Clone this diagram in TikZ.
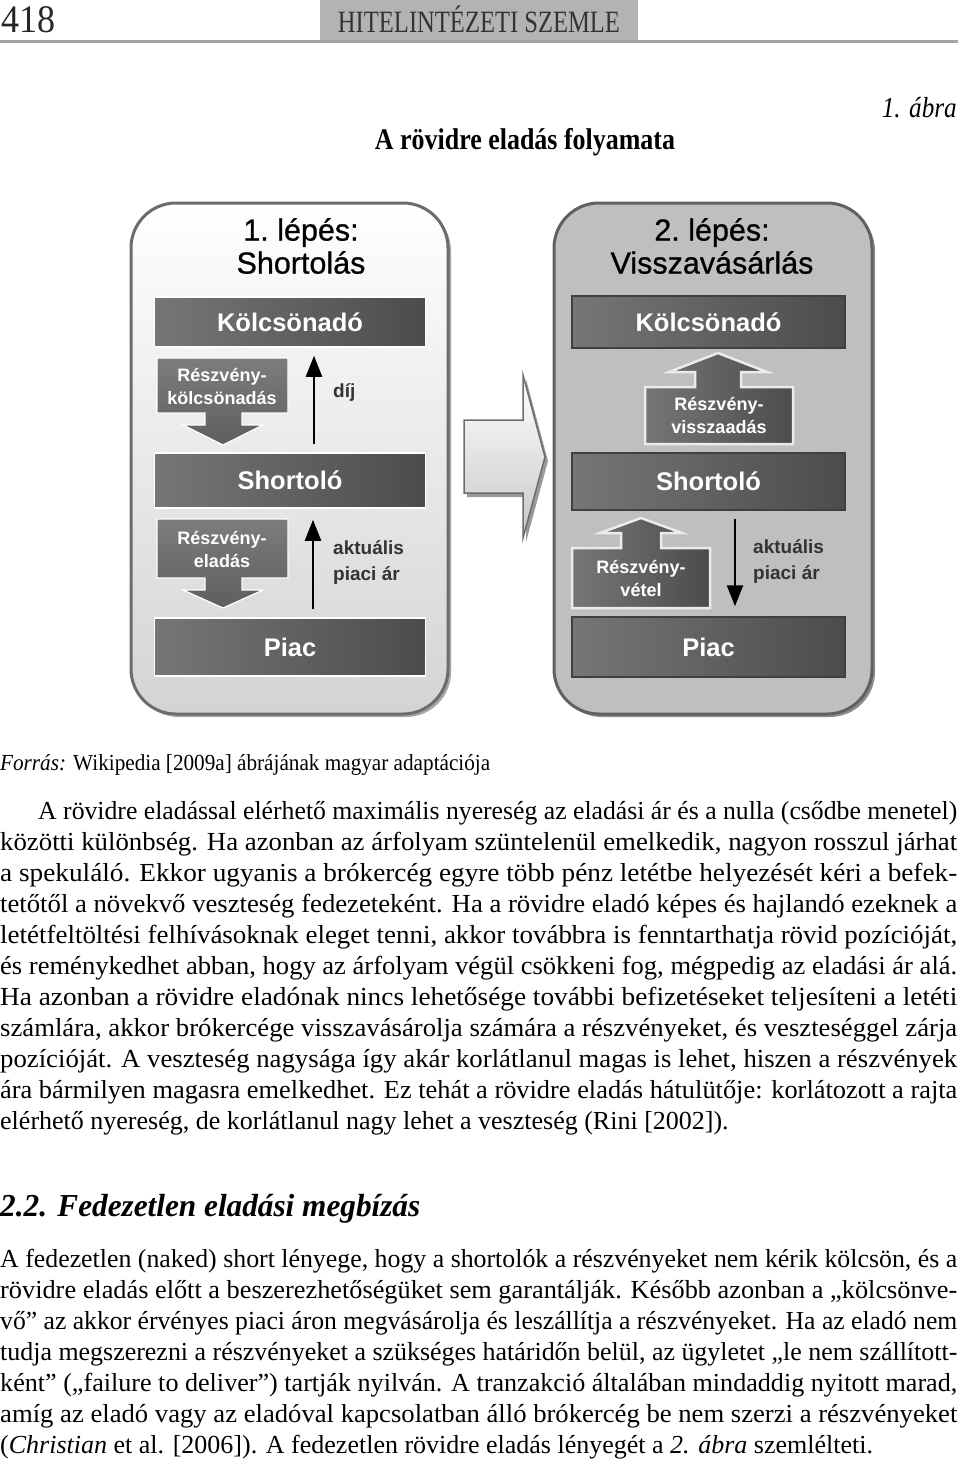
\documentclass[tikz,border=0pt]{standalone}
\usepackage{fontspec}
\usepackage{graphicx}
\setmainfont{Liberation Serif}
\newfontfamily\bodyf{Liberation Serif}
\newfontfamily\condf[FakeStretch=0.8]{Liberation Serif}
\newfontfamily\sansf{Liberation Sans}
\newfontfamily\sanstitle[FakeBold=0.8]{Liberation Sans}
\usetikzlibrary{arrows.meta,calc}
\definecolor{boxL}{HTML}{767676}
\definecolor{boxR}{HTML}{4C4C4C}
\definecolor{tabgray}{HTML}{B3B3B3}
\definecolor{rulegray}{HTML}{A3A3A3}
\definecolor{panelborder}{HTML}{6C6C6C}
\definecolor{panelR}{HTML}{BFBFBF}
\definecolor{labeltext}{HTML}{333333}
\newcommand\fitto[2]{\resizebox{#1}{\height}{#2}}
\begin{document}
\begin{tikzpicture}[x=1pt,y=-1pt,
  darkbox/.style={left color=boxL, right color=boxR, text=white,
    font=\sansf\bfseries\fontsize{25.5}{28}\selectfont, inner sep=0pt, minimum width=271pt},
  leftbox/.style={darkbox, draw=white, line width=1.5pt},
  rightbox/.style={darkbox, draw=black!75, line width=1.5pt},
  blockL/.style={top color=boxL!95, bottom color=boxR!90, draw=white, line width=1.2pt},
  blockR/.style={left color=boxL, right color=boxR, draw=black!8, line width=2.5pt},
  blocktext/.style={text=white, font=\sansf\bfseries\fontsize{18}{23}\selectfont, align=center, inner sep=0pt},
  thinarr/.style={line width=2.2pt, -{Triangle[length=21pt,width=16pt]}},
  sidelabel/.style={text=labeltext, font=\sansf\bfseries\fontsize{19}{26}\selectfont, align=left, anchor=west, inner sep=0pt},
  ptitle/.style={font=\sanstitle\fontsize{30.5}{33}\selectfont, align=center, inner sep=0pt},
  body/.style={anchor=base west, inner sep=0pt, font=\bodyf\fontsize{26}{31}\selectfont},
  bigarrow/.style={top color=white, bottom color=black!22, draw=panelborder, line width=1.5pt}
]
\useasboundingbox (0,0) rectangle (960,1462);
\fill[white] (0,0) rectangle (960,1462);

% ---------- header ----------
\fill[tabgray] (320,0) rectangle (638,40);
\draw[rulegray, line width=3pt] (0,41.5) -- (958,41.5);
\node[anchor=base west, inner sep=0pt, text=black!85, font=\condf\fontsize{39}{39}\selectfont] (pagenum) at (1,32) {\fitto{54pt}{418}};
\node[anchor=base, inner sep=0pt, text=black!80, font=\condf\fontsize{31}{31}\selectfont] (journal) at (479,32) {\fitto{282pt}{HITELINTÉZETI SZEMLE}};
\node[anchor=base east, inner sep=0pt, font=\condf\itshape\fontsize{29}{29}\selectfont] (abra) at (957,117) {\fitto{75pt}{1. ábra}};
\node[anchor=base, inner sep=0pt, font=\condf\bfseries\fontsize{30}{30}\selectfont] (title) at (525,149) {\fitto{300pt}{A rövidre eladás folyamata}};

% ---------- panels ----------
\fill[black!35, rounded corners=45pt] (134,206) rectangle (451,717);
\draw[top color=white, bottom color=black!17, draw=panelborder, line width=3pt, rounded corners=45pt] (131,203) rectangle (448,714);
\fill[black!45, rounded corners=45pt] (557,206) rectangle (875,717);
\draw[fill=panelR, draw=black!62, line width=3pt, rounded corners=45pt] (554,203) rectangle (872,714);

% big transition arrow
\fill[black!40] (467,424) -- (526,424) -- (526,379) -- (548,461) -- (526,542) -- (526,497) -- (467,497) -- cycle;
\draw[bigarrow] (464,420) -- (523,420) -- (523,375) -- (545,457) -- (523,538) -- (523,493) -- (464,493) -- cycle;

% titles
\node[ptitle] (t1) at (301,246) {1.\ lépés:\\Shortolás};
\node[ptitle] (t2) at (712,246) {2.\ lépés:\\Visszavásárlás};

% dark boxes
\node[leftbox, minimum height=50pt] (k1) at (290,322) {Kölcsönadó};
\node[leftbox, minimum height=55pt] (sh1) at (290,480.5) {Shortoló};
\node[leftbox, minimum height=58pt] (p1) at (290,647) {Piac};
\node[rightbox, minimum width=273pt, minimum height=52pt] (k2) at (708.5,322) {Kölcsönadó};
\node[rightbox, minimum width=273pt, minimum height=57pt] (sh2) at (708.5,481.5) {Shortoló};
\node[rightbox, minimum width=273pt, minimum height=60pt] (p2) at (708.5,647) {Piac};

% left block arrows (down)
\draw[blockL] (157,358) -- (288,358) -- (288,413) -- (242,413) -- (242,425) -- (263,425) -- (223,445) -- (183,425) -- (205,425) -- (205,413) -- (157,413) -- cycle;
\node[blocktext] (ba1) at (222,386) {Részvény-\\kölcsönadás};
\draw[blockL] (157,519) -- (288,519) -- (288,578) -- (242,578) -- (242,590) -- (263,590) -- (223,608) -- (183,590) -- (205,590) -- (205,578) -- (157,578) -- cycle;
\node[blocktext] (ba2) at (222,549) {Részvény-\\eladás};

% right block arrows (up)
\draw[blockR] (645,444) -- (645,387) -- (695,387) -- (695,372) -- (669,372) -- (718,353) -- (767,372) -- (741,372) -- (741,387) -- (793,387) -- (793,444) -- cycle;
\node[blocktext] (ba3) at (719,415) {Részvény-\\visszaadás};
\draw[blockR] (572,608) -- (572,548) -- (621,548) -- (621,533) -- (600,533) -- (641,518) -- (682,533) -- (661,533) -- (661,548) -- (710,548) -- (710,608) -- cycle;
\node[blocktext] (ba4) at (641,578) {Részvény-\\vétel};

% thin arrows
\draw[thinarr, shorten <=8pt, shorten >=8pt] ([xshift=24pt]sh1.north) -- ([xshift=24pt]k1.south);
\draw[thinarr, shorten <=8pt, shorten >=11pt] ([xshift=23pt]p1.north) -- ([xshift=23pt]sh1.south);
\draw[thinarr, shorten <=8pt, shorten >=10pt] ([xshift=26.5pt]sh2.south) -- ([xshift=26.5pt]p2.north);

% side labels
\node[sidelabel] (dij) at (333,392) {díj};
\node[sidelabel] (ar1) at (333,562) {aktuális\\piaci ár};
\node[sidelabel] (ar2) at (753,561) {aktuális\\piaci ár};

% ---------- caption ----------
\node[anchor=base west, inner sep=0pt, font=\condf\fontsize{23}{23}\selectfont] (src) at (0,770) {\fitto{490pt}{\textit{Forrás:} Wikipedia [2009a] ábrájának magyar adaptációja}};

% ---------- paragraph 1 ----------
\node[body] (a1) at (38,819) {\fitto{919pt}{A rövidre eladással elérhető maximális nyereség az eladási ár és a nulla (csődbe menetel)}};
\node[body] (a2) at (0,850) {\fitto{957pt}{közötti különbség. Ha azonban az árfolyam szüntelenül emelkedik, nagyon rosszul járhat}};
\node[body] (a3) at (0,881) {\fitto{957pt}{a spekuláló. Ekkor ugyanis a brókercég egyre több pénz letétbe helyezését kéri a befek-}};
\node[body] (a4) at (0,912) {\fitto{957pt}{tetőtől a növekvő veszteség fedezeteként. Ha a rövidre eladó képes és hajlandó ezeknek a}};
\node[body] (a5) at (0,943) {\fitto{957pt}{letétfeltöltési felhívásoknak eleget tenni, akkor továbbra is fenntarthatja rövid pozícióját,}};
\node[body] (a6) at (0,974) {\fitto{957pt}{és reménykedhet abban, hogy az árfolyam végül csökkeni fog, mégpedig az eladási ár alá.}};
\node[body] (a7) at (0,1005) {\fitto{957pt}{Ha azonban a rövidre eladónak nincs lehetősége további befizetéseket teljesíteni a letéti}};
\node[body] (a8) at (0,1036) {\fitto{957pt}{számlára, akkor brókercége visszavásárolja számára a részvényeket, és veszteséggel zárja}};
\node[body] (a9) at (0,1067) {\fitto{957pt}{pozícióját. A veszteség nagysága így akár korlátlanul magas is lehet, hiszen a részvények}};
\node[body] (a10) at (0,1098) {\fitto{957pt}{ára bármilyen magasra emelkedhet. Ez tehát a rövidre eladás hátulütője: korlátozott a rajta}};
\node[body] (a11) at (0,1129) {elérhető nyereség, de korlátlanul nagy lehet a veszteség (Rini [2002]).};

% ---------- heading ----------
\node[anchor=base west, inner sep=0pt, font=\condf\bfseries\itshape\fontsize{32}{32}\selectfont] (h22) at (0,1216) {\fitto{420pt}{2.2. Fedezetlen eladási megbízás}};

% ---------- paragraph 2 ----------
\node[body] (b1) at (0,1267) {\fitto{957pt}{A fedezetlen (naked) short lényege, hogy a shortolók a részvényeket nem kérik kölcsön, és a}};
\node[body] (b2) at (0,1298) {\fitto{957pt}{rövidre eladás előtt a beszerezhetőségüket sem garantálják. Később azonban a „kölcsönve-}};
\node[body] (b3) at (0,1329) {\fitto{957pt}{vő” az akkor érvényes piaci áron megvásárolja és leszállítja a részvényeket. Ha az eladó nem}};
\node[body] (b4) at (0,1360) {\fitto{957pt}{tudja megszerezni a részvényeket a szükséges határidőn belül, az ügyletet „le nem szállított-}};
\node[body] (b5) at (0,1391) {\fitto{957pt}{ként” („failure to deliver”) tartják nyilván. A tranzakció általában mindaddig nyitott marad,}};
\node[body] (b6) at (0,1422) {\fitto{957pt}{amíg az eladó vagy az eladóval kapcsolatban álló brókercég be nem szerzi a részvényeket}};
\node[body] (b7) at (0,1453) {(\textit{Christian} et al. [2006]). A fedezetlen rövidre eladás lényegét a \textit{2. ábra} szemlélteti.};
\end{tikzpicture}
\end{document}
